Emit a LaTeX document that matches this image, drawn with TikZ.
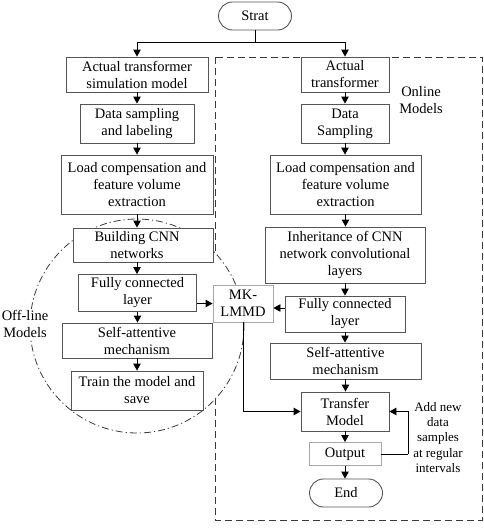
\documentclass[tikz,border=0pt]{standalone}
\usepackage{fontspec}
\setmainfont{Liberation Serif}
\usetikzlibrary{arrows.meta,calc}
\definecolor{boxgray}{HTML}{555555}
\definecolor{litegray}{HTML}{A8A8A8}
\definecolor{dashgray}{HTML}{3A3A3A}
\newcommand\mainfs{\fontsize{14.5}{17}\selectfont}
\newcommand\smallfs{\fontsize{13}{15.3}\selectfont}
\tikzset{
  box/.style={draw=boxgray, line width=0.9pt, fill=white, align=center, inner sep=1pt, font=\mainfs},
  lbox/.style={box, draw=litegray},
  term/.style={box, rounded corners=14pt},
  txt/.style={align=center, inner sep=1pt, font=\mainfs},
  arr/.style={line width=0.9pt, -{Triangle[width=7.5pt,length=7pt]}},
  ln/.style={line width=0.9pt},
}
\begin{document}
\begin{tikzpicture}[x=1pt,y=-1pt]
\useasboundingbox (0,0) rectangle (484,528);
% online dashed frame
\draw[dashgray, line width=0.9pt, dash pattern=on 7pt off 4pt] (215,57) rectangle (482,520);
% offline circle
\draw[dashgray, line width=0.8pt, fill=white, dash pattern=on 7pt off 3pt on 1.2pt off 3pt] (137,326) circle[radius=107pt];
\node[txt, fill=white] (offl) at (25,323.5) {Off-line\\Models};
\node[txt] (onl) at (421,100) {Online\\Models};

% start
\node[term, minimum width=73pt, minimum height=28pt] (S) at (255,16) {Strat};
\coordinate (split) at (255,42);

% left column
\node[box, minimum width=142pt, minimum height=35pt] (L1) at (137,74.5) {Actual transformer\\simulation model};
\node[box, minimum width=114pt, minimum height=39pt] (L2) at (137,123.5) {Data sampling\\and labeling};
\node[box, minimum width=152pt, minimum height=59pt] (L3) at (137,184.5) {Load compensation and\\feature volume\\extraction};
\node[box, minimum width=140pt, minimum height=34pt] (L4) at (143,245) {};
\node[txt] (L4t) at (137,245) {Building CNN\\networks};
\node[box, minimum width=118pt, minimum height=37pt] (L5) at (137.5,293) {Fully connected\\layer};
\node[box, minimum width=150pt, minimum height=35pt] (L6) at (137,340.5) {Self-attentive\\mechanism};
\node[box, minimum width=132pt, minimum height=39pt] (L7) at (137,390.5) {Train the model and\\save};

% MK-LMMD
\node[lbox, minimum width=60pt, minimum height=37pt] (MK) at (243,303.5) {MK-\\LMMD};

% right column
\node[box, minimum width=88pt, minimum height=35pt] (R1) at (345,74.5) {Actual\\transformer};
\node[box, minimum width=88pt, minimum height=39pt] (R2) at (345,123.5) {Data\\Sampling};
\node[box, minimum width=151pt, minimum height=59pt] (R3) at (345.5,184.5) {Load compensation and\\feature volume\\extraction};
\node[box, minimum width=160pt, minimum height=56pt] (R4) at (345,255) {Inheritance of CNN\\network convolutional\\layers};
\node[box, minimum width=120pt, minimum height=36pt] (R5) at (345,314) {Fully connected\\layer};
\node[box, minimum width=151pt, minimum height=36pt] (R6) at (345.5,361) {Self-attentive\\mechanism};
\node[box, minimum width=88pt, minimum height=39pt] (R7) at (345,411.5) {Transfer\\Model};
\node[lbox, minimum width=72pt, minimum height=23pt] (R8) at (345,454) {Output};
\node[term, minimum width=73pt, minimum height=28pt] (E) at (346,493) {End};

\node[txt, font=\smallfs] (add) at (438,437.5) {Add new\\data\\samples\\at regular\\intervals};
\coordinate (loopc) at (408,454);

% connectors
\draw[ln] (S.south) -- (split);
\draw[arr] (split) -| (L1.north);
\draw[arr] (split) -| (R1.north);
\draw[arr] (L1.south) -- (L1.south |- L2.north);
\draw[arr] (L2.south) -- (L2.south |- L3.north);
\draw[arr] (L3.south) -- (L3.south |- L4.north);
\draw[arr] (L4t.south |- L4.south) -- (L4t.south |- L5.north);
\draw[arr] (L5.south) -- (L5.south |- L6.north);
\draw[arr] (L6.south) -- (L6.south |- L7.north);
\draw[arr] (R1.south) -- (R1.south |- R2.north);
\draw[arr] (R2.south) -- (R2.south |- R3.north);
\draw[arr] (R3.south) -- (R3.south |- R4.north);
\draw[arr] (R4.south) -- (R4.south |- R5.north);
\draw[arr] (R5.south) -- (R5.south |- R6.north);
\draw[arr] (R6.south) -- (R6.south |- R7.north);
\draw[arr] (R7.south) -- (R7.south |- R8.north);
\draw[arr] (R8.south) -- (R8.south |- E.north);
\draw[arr] (MK.west -| L5.east) -- (MK.west);
\draw[arr] ([yshift=-4.5pt]MK.east -| R5.west) -- ([yshift=-4.5pt]MK.east);
\draw[arr] (MK.south) |- (R7.west);
\draw[ln] (R8.east) -- (loopc);
\draw[arr] (loopc) |- (R7.east);
\end{tikzpicture}
\end{document}
